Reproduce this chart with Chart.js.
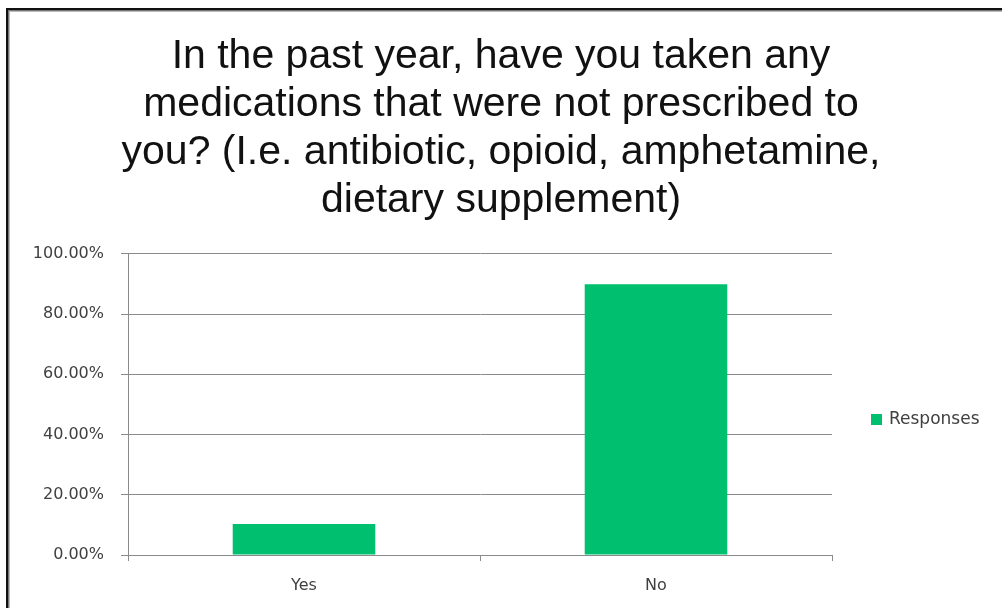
<!DOCTYPE html>
<html>
<head>
<meta charset="utf-8">
<script src="https://cdn.jsdelivr.net/npm/chart.js@4/dist/chart.umd.min.js"></script>
<style>
  html, body { margin: 0; padding: 0; background: #fff; overflow: hidden; }
  #wrap { position: relative; width: 1002px; height: 608px; }
  #frame { position: absolute; left: 6px; top: 8px; width: 1100px; height: 700px;
           border-left: 2px solid #111; border-top: 2px solid #111;
           box-shadow: inset 1px 1px 0 #777, inset 2px 2px 0 #bbb; pointer-events: none; }
</style>
</head>
<body>
<div id="wrap">
  <canvas id="c" width="1002" height="608"></canvas>
  <div id="frame"></div>
</div>
<script>
const titleLines = [
  "In the past year, have you taken any",
  "medications that were not prescribed to",
  "you? (I.e. antibiotic, opioid, amphetamine,",
  "dietary supplement)"
];
const categories = ["Yes", "No"];
const seriesName = "Responses";
const responses = [10.3, 89.9];
const yTicks = [0, 20, 40, 60, 80, 100];

const TICK_FONT = '"DejaVu Sans", Verdana, sans-serif';

const legendPlugin = {
  id: 'sideLegend',
  afterDraw(chart) {
    const ctx = chart.ctx;
    const ds = chart.data.datasets[0];
    ctx.save();
    ctx.fillStyle = ds.backgroundColor;
    ctx.fillRect(871, 414, 11, 11);
    ctx.fillStyle = '#404040';
    ctx.font = '17px ' + TICK_FONT;
    ctx.textBaseline = 'middle';
    ctx.textAlign = 'left';
    ctx.fillText(ds.label, 889, 420);
    ctx.restore();
  }
};

new Chart(document.getElementById('c'), {
  type: 'bar',
  data: {
    labels: categories,
    datasets: [{
      label: seriesName,
      data: responses,
      backgroundColor: '#00BF6F',
      borderWidth: 0,
      barPercentage: 0.405,
      categoryPercentage: 1.0,
      yAxisID: 'y'
    }]
  },
  options: {
    responsive: false,
    animation: false,
    devicePixelRatio: 1,
    layout: { padding: 0 },
    plugins: {
      legend: { display: false },
      tooltip: { enabled: false },
      title: {
        display: true,
        text: titleLines,
        color: '#111111',
        font: { family: '"Liberation Sans", Arial, sans-serif', size: 41, weight: 'normal', lineHeight: 1.17 },
        padding: { top: 33, bottom: 29 }
      }
    },
    scales: {
      x: {
        offset: true,
        grid: { display: true, offset: true, drawOnChartArea: false, drawTicks: true, tickLength: 6, color: '#8a8a8a' },
        border: { display: true, color: '#8a8a8a' },
        ticks: { color: '#404040', font: { family: TICK_FONT, size: 16 }, padding: 15 },
        afterFit(scale) { scale.height = 53; }
      },
      y: {
        min: 0, max: 100,
        afterBuildTicks(scale) { scale.ticks = yTicks.map(v => ({ value: v })); },
        grid: { color: '#8a8a8a', tickLength: 7, drawTicks: true },
        border: { display: true, color: '#8a8a8a' },
        ticks: {
          color: '#404040',
          font: { family: TICK_FONT, size: 16 },
          padding: 17,
          callback: v => v.toFixed(2) + '%'
        },
        afterFit(scale) { scale.width = 128; }
      },
      spacer: {
        type: 'linear',
        position: 'right',
        min: 0, max: 1,
        display: true,
        grid: { display: false, drawTicks: false },
        border: { display: false },
        ticks: { display: false },
        afterFit(scale) { scale.width = 170; }
      }
    }
  },
  plugins: [legendPlugin]
});
</script>
</body>
</html>
